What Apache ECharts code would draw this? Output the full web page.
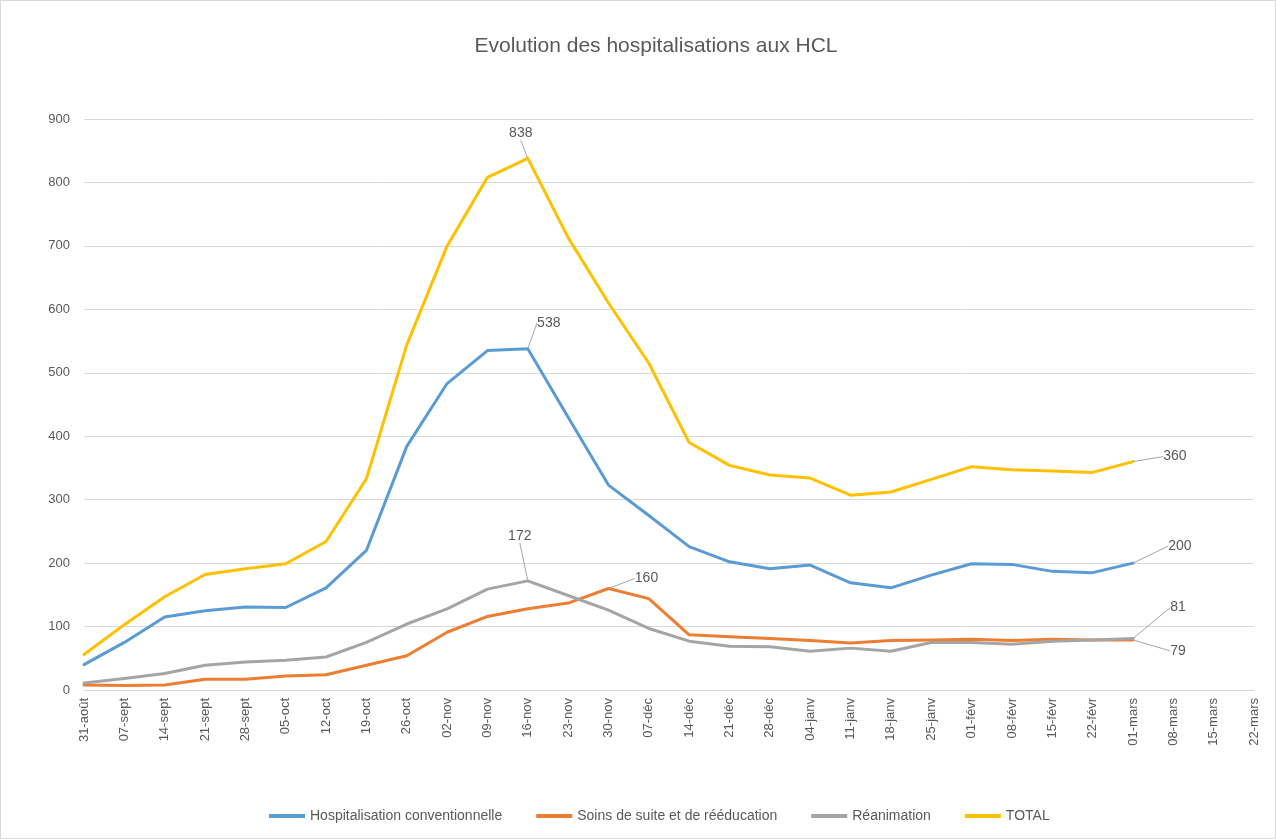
<!DOCTYPE html>
<html>
<head>
<meta charset="utf-8">
<script src="https://cdn.jsdelivr.net/npm/echarts@6/dist/echarts.min.js"></script>
<style>
html,body{margin:0;padding:0;background:#fff;}
#c{width:1274px;height:837px;border:1px solid #d9d9d9;}
</style>
</head>
<body>
<div id="c"></div>
<script>
const categories = ['31-août','07-sept','14-sept','21-sept','28-sept','05-oct','12-oct','19-oct','26-oct','02-nov','09-nov','16-nov','23-nov','30-nov','07-déc','14-déc','21-déc','28-déc','04-janv','11-janv','18-janv','25-janv','01-févr','08-févr','15-févr','22-févr','01-mars','08-mars','15-mars','22-mars'];
const hospConv = [40,75,115,125,131,130,161,220,384,483,535,538,430,323,275,226,202,191,197,169,161,181,199,198,187,185,200];
const soinsSuite = [8,7,8,17,17,22,24,39,54,91,116,128,137,160,144,87,84,81,78,74,78,79,80,78,80,79,79];
const reanimation = [11,18,26,39,44,47,52,75,104,128,159,172,149,126,97,77,69,68,61,66,61,75,75,72,77,79,81];
const total = [56,103,147,182,191,199,234,333,544,700,808,838,713,610,515,390,354,339,334,307,312,332,352,347,345,343,360];
const seriesNames = ['Hospitalisation conventionnelle','Soins de suite et de rééducation','Réanimation','TOTAL'];
// indices of labelled points per series
const labelled = [[11,26],[13,26],[11,26],[11,26]];

// label offsets (style config)
const labelOffsets = {
  0: {11:[21,-26], 26:[47,-17]},
  1: {13:[38,-10], 26:[45,11]},
  2: {11:[-8,-45], 26:[45,-31]},
  3: {11:[-7,-25], 26:[42,-5]}
};
const colors = ['#5B9BD5','#ED7D31','#A5A5A5','#FFC000'];
const values = [hospConv, soinsSuite, reanimation, total];

const chart = echarts.init(document.getElementById('c'));
const series = values.map((arr, si) => ({
  name: seriesNames[si],
  type: 'line',
  data: arr.map((v, i) => labelled[si].includes(i) ? {value: v, label: {show: true}} : v),
  showSymbol: true,
  symbol: 'circle',
  symbolSize: 0.1,
  lineStyle: {width: 3, color: colors[si], cap: 'round', join: 'round'},
  itemStyle: {color: colors[si]},
  emphasis: {disabled: true},
  label: {show: false, position: 'inside', color: '#595959', fontSize: 14, fontFamily: 'Liberation Sans'},
  labelLine: {show: true, lineStyle: {color: '#A5A5A5', width: 1}},
  labelLayout: function (p) {
    const o = labelOffsets[si][p.dataIndex];
    if (!o) return {};
    return {dx: o[0], dy: o[1]};
  },
  z: si + 2
}));

chart.setOption({
  animation: false,
  textStyle: {fontFamily: 'Liberation Sans'},
  title: {
    text: 'Evolution des hospitalisations aux HCL',
    left: 650, top: 30, textAlign: 'center',
    textStyle: {color: '#595959', fontSize: 21, fontWeight: 'normal', fontFamily: 'Liberation Sans'}
  },
  legend: {
    bottom: 10, left: 263,
    icon: 'rect', itemWidth: 36, itemHeight: 4, itemGap: 34,
    textStyle: {color: '#595959', fontSize: 14, fontFamily: 'Liberation Sans'},
    data: seriesNames
  },
  grid: {left: 83, right: 21, top: 118, bottom: 148},
  xAxis: {
    type: 'category', data: categories, boundaryGap: false,
    axisLine: {lineStyle: {color: '#d9d9d9', width: 1}},
    axisTick: {show: false},
    axisLabel: {rotate: 90, color: '#595959', fontSize: 13, margin: 8, interval: 0}
  },
  yAxis: {
    type: 'value', min: 0, max: 900, interval: 100,
    axisLine: {show: false}, axisTick: {show: false},
    splitLine: {lineStyle: {color: '#d9d9d9', width: 1}},
    axisLabel: {color: '#595959', fontSize: 13, margin: 14}
  },
  series: series
});
</script>
</body>
</html>
